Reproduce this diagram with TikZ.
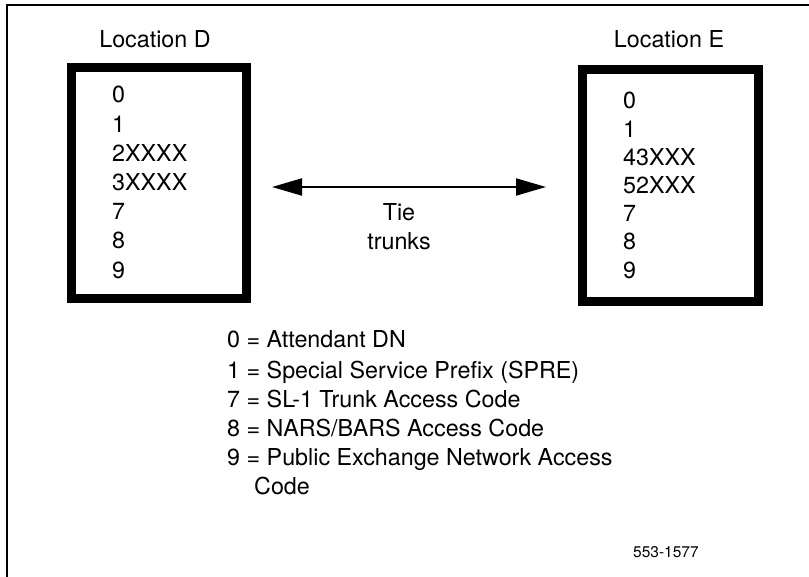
\documentclass[tikz,border=0pt]{standalone}
\usepackage{fontspec}
\setmainfont{TeX Gyre Heros}
\usetikzlibrary{arrows.meta}
\tikzset{
  label text/.style={inner sep=0pt, font=\fontsize{23.3}{28}\selectfont},
  code text/.style={label text, anchor=base west},
  locbox/.style={draw, line width=9pt, rectangle, inner sep=0pt},
  frame line/.style={line width=2pt},
  tiearrow/.style={line width=2pt, {Triangle[length=30pt,width=17pt]}-{Triangle[length=30pt,width=17pt]}},
}
\begin{document}
\begin{tikzpicture}[x=1pt,y=-1pt]
\useasboundingbox (0,0) rectangle (809,577);
% page frame: top and left edges only
\draw[frame line] (809,5) -- (7,5) -- (7,577);

% location boxes
\node[locbox, minimum width=175pt, minimum height=231.5pt] (dbox) at (159,183.25) {};
\node[locbox, minimum width=176pt, minimum height=232pt] (ebox) at (670,186) {};
\node[label text, anchor=base] (dtitle) at (155,48) {Location D};
\node[label text, anchor=base] (etitle) at (669,48) {Location E};

% dialing plan of location D
\foreach \t [count=\i from 0] in {0,1,2XXXX,3XXXX,7,8,9}
  \node[code text] (d\i) at (112,103+29.2*\i) {\t};
% dialing plan of location E
\foreach \t [count=\i from 0] in {0,1,43XXX,52XXX,7,8,9}
  \node[code text] (e\i) at (623,109+28.2*\i) {\t};

% tie trunks between the two locations
\coordinate (tieL) at (272,187);
\coordinate (tieR) at (546,187);
\draw[tiearrow] (tieL) -- (tieR);
\node[label text, anchor=base] (tie) at (399,221) {Tie};
\node[label text, anchor=base] (trunks) at (399,250) {trunks};

% legend
\node[code text] (l0) at (227,348) {0 = Attendant DN};
\node[code text] (l1) at (227,378) {1 = Special Service Prefix (SPRE)};
\node[code text] (l7) at (227,407) {7 = SL-1 Trunk Access Code};
\node[code text] (l8) at (227,436) {8 = NARS/BARS Access Code};
\node[code text] (l9) at (227,465) {9 = Public Exchange Network Access};
\node[code text] (l9b) at (254,494) {Code};

% figure number
\node[inner sep=0pt, anchor=base west, font=\fontsize{15.5}{18}\selectfont] (fignum) at (633,557) {553-1577};
\end{tikzpicture}
\end{document}
